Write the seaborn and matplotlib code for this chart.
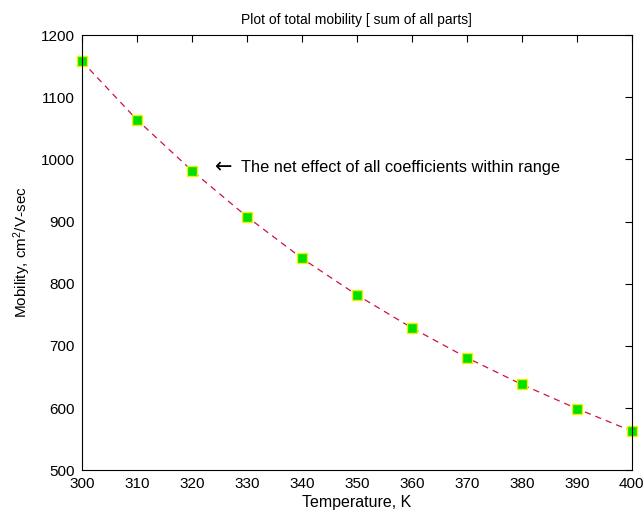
import matplotlib
matplotlib.use("Agg")
import matplotlib.pyplot as plt
import seaborn as sns
import pandas as pd

temperature = [300, 310, 320, 330, 340, 350, 360, 370, 380, 390, 400]
mobility = [1158, 1064, 982, 908, 841, 782, 729, 681, 638, 599, 563]
x_ticks = list(range(300, 401, 10))
y_ticks = list(range(500, 1201, 100))

df = pd.DataFrame({"Temperature": temperature, "Mobility": mobility})

sns.set_style("white")
plt.rcParams["font.family"] = ["Liberation Sans", "DejaVu Sans"]
plt.rcParams["mathtext.fontset"] = "custom"
plt.rcParams["mathtext.rm"] = "Liberation Sans"
plt.rcParams["mathtext.it"] = "Liberation Sans"
plt.rcParams["text.color"] = "black"
plt.rcParams["axes.labelcolor"] = "black"

fig = plt.figure(figsize=(6.44, 5.15), dpi=100)
ax = fig.add_axes([0.127, 0.087, 0.854, 0.845])

sns.lineplot(x="Temperature", y="Mobility", data=df, ax=ax,
             color="#d0103a", linestyle=(0, (5, 4)), linewidth=0.9,
             marker="s", markersize=7.5, markerfacecolor="#00e000",
             markeredgecolor="#f0f000", markeredgewidth=1.0, clip_on=False)

ax.set_xlim(300, 400)
ax.set_ylim(500, 1200)
ax.set_xticks(x_ticks)
ax.set_yticks(y_ticks)
ax.tick_params(direction="in", length=5, labelsize=11, top=True, right=True,
               labeltop=False, labelright=False, colors="black", width=0.8,
               pad=5)
for s in ax.spines.values():
    s.set_color("black")
    s.set_linewidth(0.8)

ax.set_title("Plot of total mobility [ sum of all parts]", fontsize=10, pad=8)
ax.set_xlabel("Temperature, K", fontsize=11.5, labelpad=3)
ax.set_ylabel(r"Mobility, cm$^2$/V-sec", fontsize=11, labelpad=6)

ax.text(324.3, 987, "\u2190", fontsize=15, va="center", ha="left",
        family=["DejaVu Sans"])
ax.text(329.0, 987, "The net effect of all coefficients within range",
        fontsize=11.8, va="center", ha="left")

fig.savefig("out.png", dpi=100)
